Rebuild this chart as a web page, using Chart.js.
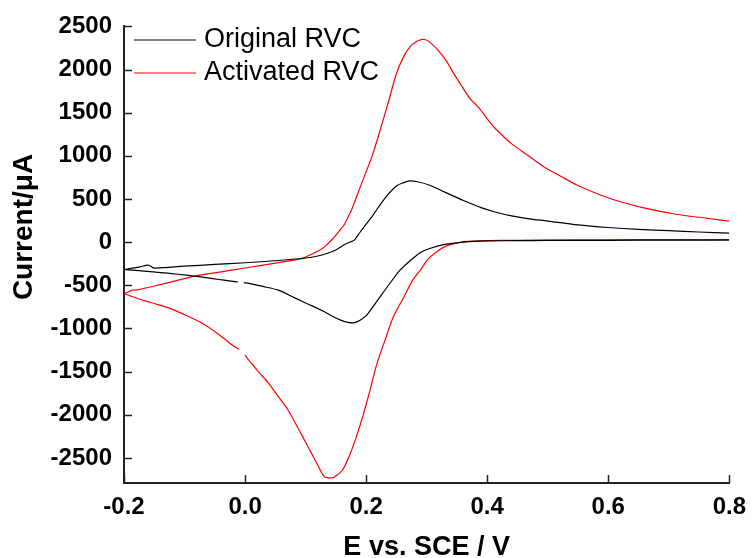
<!DOCTYPE html>
<html>
<head>
<meta charset="utf-8">
<script src="https://cdn.jsdelivr.net/npm/chart.js@4.4.0/dist/chart.umd.min.js"></script>
<style>
  html, body { margin: 0; padding: 0; background: #fff; }
</style>
</head>
<body>
<canvas id="cv" width="756" height="558"></canvas>
<script>
// Original RVC: forward scan -0.2 -> 0.8 V, then back to -0.2 V (null = break in the trace)
const origE = [-0.2, -0.175, -0.16, -0.15, -0.1, -0.05, 0.0, 0.05, 0.1, 0.12, 0.136, 0.15, 0.165, 0.175, 0.18, 0.19, 0.2, 0.21, 0.23, 0.25, 0.262, 0.272, 0.285, 0.305, 0.33, 0.36, 0.39, 0.413, 0.44, 0.467, 0.5, 0.55, 0.6, 0.65, 0.7, 0.75, 0.8,
  0.8, 0.8, 0.7, 0.6, 0.5, 0.45, 0.4, 0.386, 0.36, 0.332, 0.305, 0.29, 0.277, 0.256, 0.24, 0.223, 0.21, 0.201, 0.19, 0.18, 0.17, 0.158, 0.145, 0.131, 0.11, 0.082, 0.055, 0.028, 0.01, -0.002, -0.007, -0.012, -0.027, -0.043, -0.07, -0.097, -0.125, -0.151, -0.175, -0.2];
const origI = [-316, -290, -266, -300, -278, -258, -238, -215, -183, -160, -128, -90, -25, 5, 20, 115, 210, 300, 500, 650, 690, 710, 700, 660, 580, 485, 400, 350, 305, 274, 245, 200, 170, 148, 133, 118, 105,
  null, 25, 24, 22, 20, 18, 15, 12, 0, -23, -73, -120, -189, -324, -470, -633, -760, -845, -905, -934, -930, -903, -860, -807, -735, -645, -556, -510, -482, -468, null, -460, -448, -432, -405, -382, -362, -343, -330, -316];

// Activated RVC
const actE = [-0.2, -0.192, -0.187, -0.178, -0.15, -0.12, -0.081, -0.05, 0.0, 0.05, 0.0875, 0.098, 0.11, 0.123, 0.131, 0.145, 0.158, 0.164, 0.175, 0.185, 0.193, 0.21, 0.223, 0.237, 0.25, 0.262, 0.272, 0.282, 0.291, 0.298, 0.305, 0.318, 0.332, 0.345, 0.359, 0.372, 0.386, 0.4, 0.413, 0.427, 0.44, 0.467, 0.494, 0.52, 0.549, 0.603, 0.657, 0.712, 0.76, 0.8,
  0.8, 0.8, 0.7, 0.6, 0.5, 0.45, 0.4, 0.38, 0.359, 0.332, 0.315, 0.302, 0.29, 0.277, 0.262, 0.245, 0.232, 0.218, 0.207, 0.196, 0.185, 0.174, 0.161, 0.147, 0.139, 0.131, 0.12, 0.11, 0.098, 0.085, 0.071, 0.055, 0.039, 0.022, 0.011, 0.006, 0.0, -0.005, -0.01, -0.021, -0.045, -0.07, -0.1, -0.124, -0.15, -0.178, -0.2];
const actI = [-594, -575, -556, -553, -508, -457, -390, -355, -299, -242, -200, -177, -140, -93, -54, 40, 150, 205, 360, 540, 690, 1000, 1296, 1630, 1952, 2150, 2260, 2320, 2346, 2345, 2318, 2230, 2106, 1950, 1797, 1660, 1560, 1430, 1320, 1225, 1142, 1007, 872, 770, 660, 506, 401, 324, 280, 245,
  null, 31, 30, 28, 25, 22, 18, 14, 4, -46, -120, -200, -320, -440, -640, -864, -1120, -1404, -1700, -1983, -2230, -2446, -2639, -2723, -2730, -2716, -2581, -2450, -2292, -2120, -1944, -1790, -1635, -1500, -1404, -1366, -1308, null, -1240, -1192, -1060, -941, -840, -767, -710, -652, -594];

const xTicks = [-0.2, 0.0, 0.2, 0.4, 0.6, 0.8];
const yTicks = [-2500, -2000, -1500, -1000, -500, 0, 500, 1000, 1500, 2000, 2500];

const FONT = "'Liberation Sans', Arial, sans-serif";

const toPoints = (es, is) => es.map((e, k) => ({ x: e, y: is[k] }));

// inward tick marks, y axis title and the in-plot legend
const decorations = {
  id: "decorations",
  afterDraw(chart) {
    const { ctx, chartArea, scales } = chart;
    ctx.save();
    ctx.strokeStyle = "#222";
    ctx.lineWidth = 1.5;
    ctx.beginPath();
    scales.x.ticks.forEach((t) => {
      const px = Math.round(scales.x.getPixelForValue(t.value)) + 0.5;
      ctx.moveTo(px, chartArea.bottom);
      ctx.lineTo(px, chartArea.bottom - 8);
    });
    scales.y.ticks.forEach((t) => {
      const py = Math.round(scales.y.getPixelForValue(t.value)) + 0.5;
      ctx.moveTo(chartArea.left, py);
      ctx.lineTo(chartArea.left + 8, py);
    });
    ctx.stroke();

    // y title
    ctx.fillStyle = "#000";
    ctx.font = "bold 28px " + FONT;
    ctx.textAlign = "center";
    ctx.textBaseline = "middle";
    ctx.translate(24, 227);
    ctx.rotate(-Math.PI / 2);
    ctx.fillText("Current/\u03bcA", 0, 0);
    ctx.setTransform(1, 0, 0, 1, 0, 0);

    // legend
    ctx.font = "27px " + FONT;
    ctx.textAlign = "left";
    chart.data.datasets.forEach((ds, k) => {
      const y = 40 + k * 33;
      ctx.strokeStyle = ds.borderColor;
      ctx.lineWidth = 1.2;
      ctx.beginPath();
      ctx.moveTo(134, y);
      ctx.lineTo(196, y);
      ctx.stroke();
      ctx.fillText(ds.label, 204, y);
    });
    ctx.restore();
  },
};

const ctx = document.getElementById("cv").getContext("2d");
new Chart(ctx, {
  type: "scatter",
  data: {
    datasets: [
      {
        label: "Original RVC",
        data: toPoints(origE, origI),
        showLine: true,
        borderColor: "#000000",
        borderWidth: 1.2,
        pointRadius: 0,
        tension: 0.3,
      },
      {
        label: "Activated RVC",
        data: toPoints(actE, actI),
        showLine: true,
        borderColor: "#ff0000",
        borderWidth: 1.2,
        pointRadius: 0,
        tension: 0.3,
      },
    ],
  },
  options: {
    responsive: false,
    animation: false,
    layout: { padding: { top: 26, right: 19, left: 0, bottom: 0 } },
    plugins: {
      legend: { display: false },
      tooltip: { enabled: false },
    },
    scales: {
      x: {
        type: "linear",
        min: -0.2,
        max: 0.8,
        afterBuildTicks: (s) => {
          s.ticks = xTicks.map((v) => ({ value: v }));
        },
        afterFit: (s) => {
          s.height = 75;
        },
        grid: { drawOnChartArea: false, drawTicks: false },
        border: { display: true, color: "#222", width: 2 },
        ticks: {
          color: "#000",
          padding: 10,
          font: { family: FONT, size: 24, weight: "bold" },
          callback: (v) => Number(v).toFixed(1),
        },
        title: {
          display: true,
          text: "E vs. SCE / V",
          color: "#000",
          font: { family: FONT, size: 27, weight: "bold", lineHeight: 0.78 },
          padding: { top: 0, bottom: 0 },
        },
      },
      y: {
        type: "linear",
        min: -2790,
        max: 2500,
        afterBuildTicks: (s) => {
          s.ticks = yTicks.map((v) => ({ value: v }));
        },
        afterFit: (s) => {
          s.width = 124;
        },
        grid: { drawOnChartArea: false, drawTicks: false },
        border: { display: true, color: "#222", width: 2 },
        ticks: {
          color: "#000",
          padding: 12,
          font: { family: FONT, size: 24, weight: "bold" },
          callback: (v) => String(v),
        },
      },
    },
  },
  plugins: [decorations],
});
</script>
</body>
</html>
